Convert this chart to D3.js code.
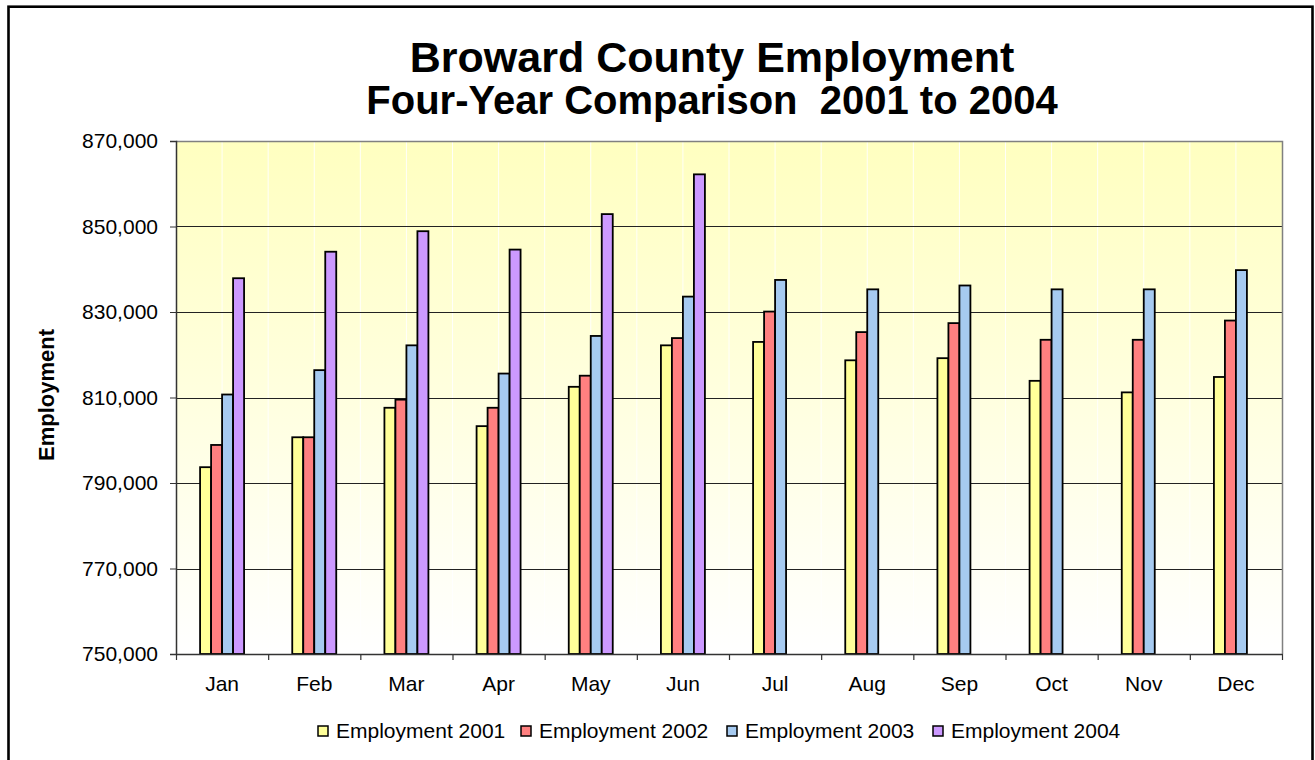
<!DOCTYPE html>
<html>
<head>
<meta charset="utf-8">
<script src="https://cdn.jsdelivr.net/npm/d3@7"></script>
<style>
  html, body { margin: 0; padding: 0; background: #ffffff; }
  svg { display: block; font-family: "Liberation Sans", Arial, sans-serif; }
  .title { white-space: pre; }
</style>
</head>
<body>
<svg id="chart" width="1315" height="760"></svg>
<script>
// ---- data ----
const months = ["Jan","Feb","Mar","Apr","May","Jun","Jul","Aug","Sep","Oct","Nov","Dec"];
const seriesNames = ["Employment 2001","Employment 2002","Employment 2003","Employment 2004"];
const emp2001 = [793700, 800700, 807600, 803300, 812500, 822200, 823000, 818700, 819200, 813900, 811200, 814800];
const emp2002 = [798900, 800700, 809500, 807600, 815100, 823900, 830100, 825300, 827400, 823500, 823500, 828000];
const emp2003 = [810700, 816400, 822200, 815600, 824400, 833600, 837500, 835300, 836200, 835300, 835300, 839800];
const emp2004 = [837900, 844100, 848900, 844600, 852900, 862200, null, null, null, null, null, null];
const yTicks = [750000, 770000, 790000, 810000, 830000, 850000, 870000];
const titleLines = ["Broward County Employment", "Four-Year Comparison  2001 to 2004"];
const yAxisTitle = "Employment";

const seriesValues = [emp2001, emp2002, emp2003, emp2004];
const colors = ["#FFFF99", "#FF8080", "#A6CAF0", "#CC99FF"];

// ---- layout ----
const svg = d3.select("#chart");
const plot = { left: 176, right: 1282, top: 141, bottom: 654 };

// outer border
svg.append("rect")
  .attr("x", 8.5).attr("y", 6.7).attr("width", 1304).attr("height", 800)
  .attr("fill", "#ffffff").attr("stroke", "#000").attr("stroke-width", 2.6);

// gradient
const defs = svg.append("defs");
const grad = defs.append("linearGradient").attr("id", "bg").attr("x1", 0).attr("y1", 0).attr("x2", 0).attr("y2", 1);
grad.append("stop").attr("offset", "0%").attr("stop-color", "#FFFFC0");
grad.append("stop").attr("offset", "45%").attr("stop-color", "#FFFFDC");
grad.append("stop").attr("offset", "100%").attr("stop-color", "#FFFFFF");

svg.append("rect")
  .attr("x", plot.left).attr("y", plot.top)
  .attr("width", plot.right - plot.left).attr("height", plot.bottom - plot.top)
  .attr("fill", "url(#bg)");

// scales
const x0 = d3.scaleBand().domain(months).range([plot.left, plot.right]).paddingInner(0).paddingOuter(0);
const x1 = d3.scaleBand().domain(seriesNames).range([0, x0.bandwidth()]).paddingInner(0).paddingOuter(2.19);
const y = d3.scaleLinear().domain([750000, 870000]).range([plot.bottom, plot.top]);

// faint white vertical lines at half-bands
const halfPositions = [];
months.forEach(m => { halfPositions.push(x0(m) + x0.bandwidth() / 2); halfPositions.push(x0(m) + x0.bandwidth()); });
svg.append("g").selectAll("line").data(halfPositions.slice(0, -1)).join("line")
  .attr("x1", d => d).attr("x2", d => d)
  .attr("y1", plot.top + 1).attr("y2", plot.bottom)
  .attr("stroke", "#ffffff").attr("stroke-width", 1).attr("opacity", 0.9);

// horizontal gridlines
svg.append("g").selectAll("line").data(yTicks.filter(t => t > 750000 && t < 870000)).join("line")
  .attr("x1", plot.left).attr("x2", plot.right)
  .attr("y1", d => Math.round(y(d)) + 0.5).attr("y2", d => Math.round(y(d)) + 0.5)
  .attr("stroke", "#222").attr("stroke-width", 1.2);

// plot border top/right
svg.append("path")
  .attr("d", `M${plot.left},${plot.top + 0.5}H${plot.right + 0.5}V${plot.bottom}`)
  .attr("fill", "none").attr("stroke", "#808080").attr("stroke-width", 1.5);

// bars
const barData = [];
months.forEach((m, i) => {
  seriesNames.forEach((s, j) => {
    const v = seriesValues[j][i];
    if (v != null) barData.push({ m, s, v, c: colors[j] });
  });
});
svg.append("g").selectAll("rect").data(barData).join("rect")
  .attr("x", d => x0(d.m) + x1(d.s))
  .attr("y", d => y(d.v))
  .attr("width", x1.bandwidth())
  .attr("height", d => y(750000) - y(d.v))
  .attr("fill", d => d.c)
  .attr("stroke", "#000").attr("stroke-width", 1.8);

// y axis
const yAxis = svg.append("g").attr("transform", `translate(${plot.left},0)`)
  .call(d3.axisLeft(y).tickValues(yTicks).tickSize(6).tickPadding(12).tickFormat(d3.format(",")));
yAxis.select(".domain").attr("stroke", "#333").attr("stroke-width", 1.5);
yAxis.selectAll(".tick line").attr("stroke", "#333");
yAxis.selectAll(".tick text").attr("font-size", 21).attr("fill", "#000")
  .attr("font-family", "'Liberation Sans', Arial, sans-serif");

// x axis
const xAxis = svg.append("g").attr("transform", `translate(0,${plot.bottom})`)
  .call(d3.axisBottom(x0).tickSize(0).tickPadding(22));
xAxis.select(".domain").attr("stroke", "#333").attr("stroke-width", 1.5);
xAxis.selectAll(".tick text").attr("font-size", 21).attr("fill", "#000")
  .attr("font-family", "'Liberation Sans', Arial, sans-serif");
// category boundary ticks
const boundaries = months.map(m => x0(m)).concat([plot.right]);
svg.append("g").selectAll("line").data(boundaries).join("line")
  .attr("x1", d => d + 0.5).attr("x2", d => d + 0.5)
  .attr("y1", plot.bottom).attr("y2", plot.bottom + 6)
  .attr("stroke", "#333").attr("stroke-width", 1.2);

// y axis title
svg.append("text")
  .attr("transform", "translate(54,395) rotate(-90)")
  .attr("text-anchor", "middle")
  .attr("font-size", 22).attr("font-weight", "bold")
  .text(yAxisTitle);

// titles
svg.append("text").attr("class", "title").attr("x", 712).attr("y", 72).attr("text-anchor", "middle")
  .attr("font-size", 43).attr("font-weight", "bold").text(titleLines[0]);
svg.append("text").attr("class", "title").attr("x", 712).attr("y", 114).attr("text-anchor", "middle")
  .attr("font-size", 40).attr("font-weight", "bold").text(titleLines[1]);

// legend
const legendX = [318, 521, 727, 933];
const lg = svg.append("g").selectAll("g").data(seriesNames).join("g")
  .attr("transform", (d, i) => `translate(${legendX[i]},726)`);
lg.append("rect").attr("width", 10).attr("height", 10)
  .attr("fill", (d, i) => colors[i]).attr("stroke", "#000").attr("stroke-width", 1.5);
lg.append("text").attr("x", 18).attr("y", 12).attr("font-size", 21).text(d => d);
</script>
</body>
</html>
